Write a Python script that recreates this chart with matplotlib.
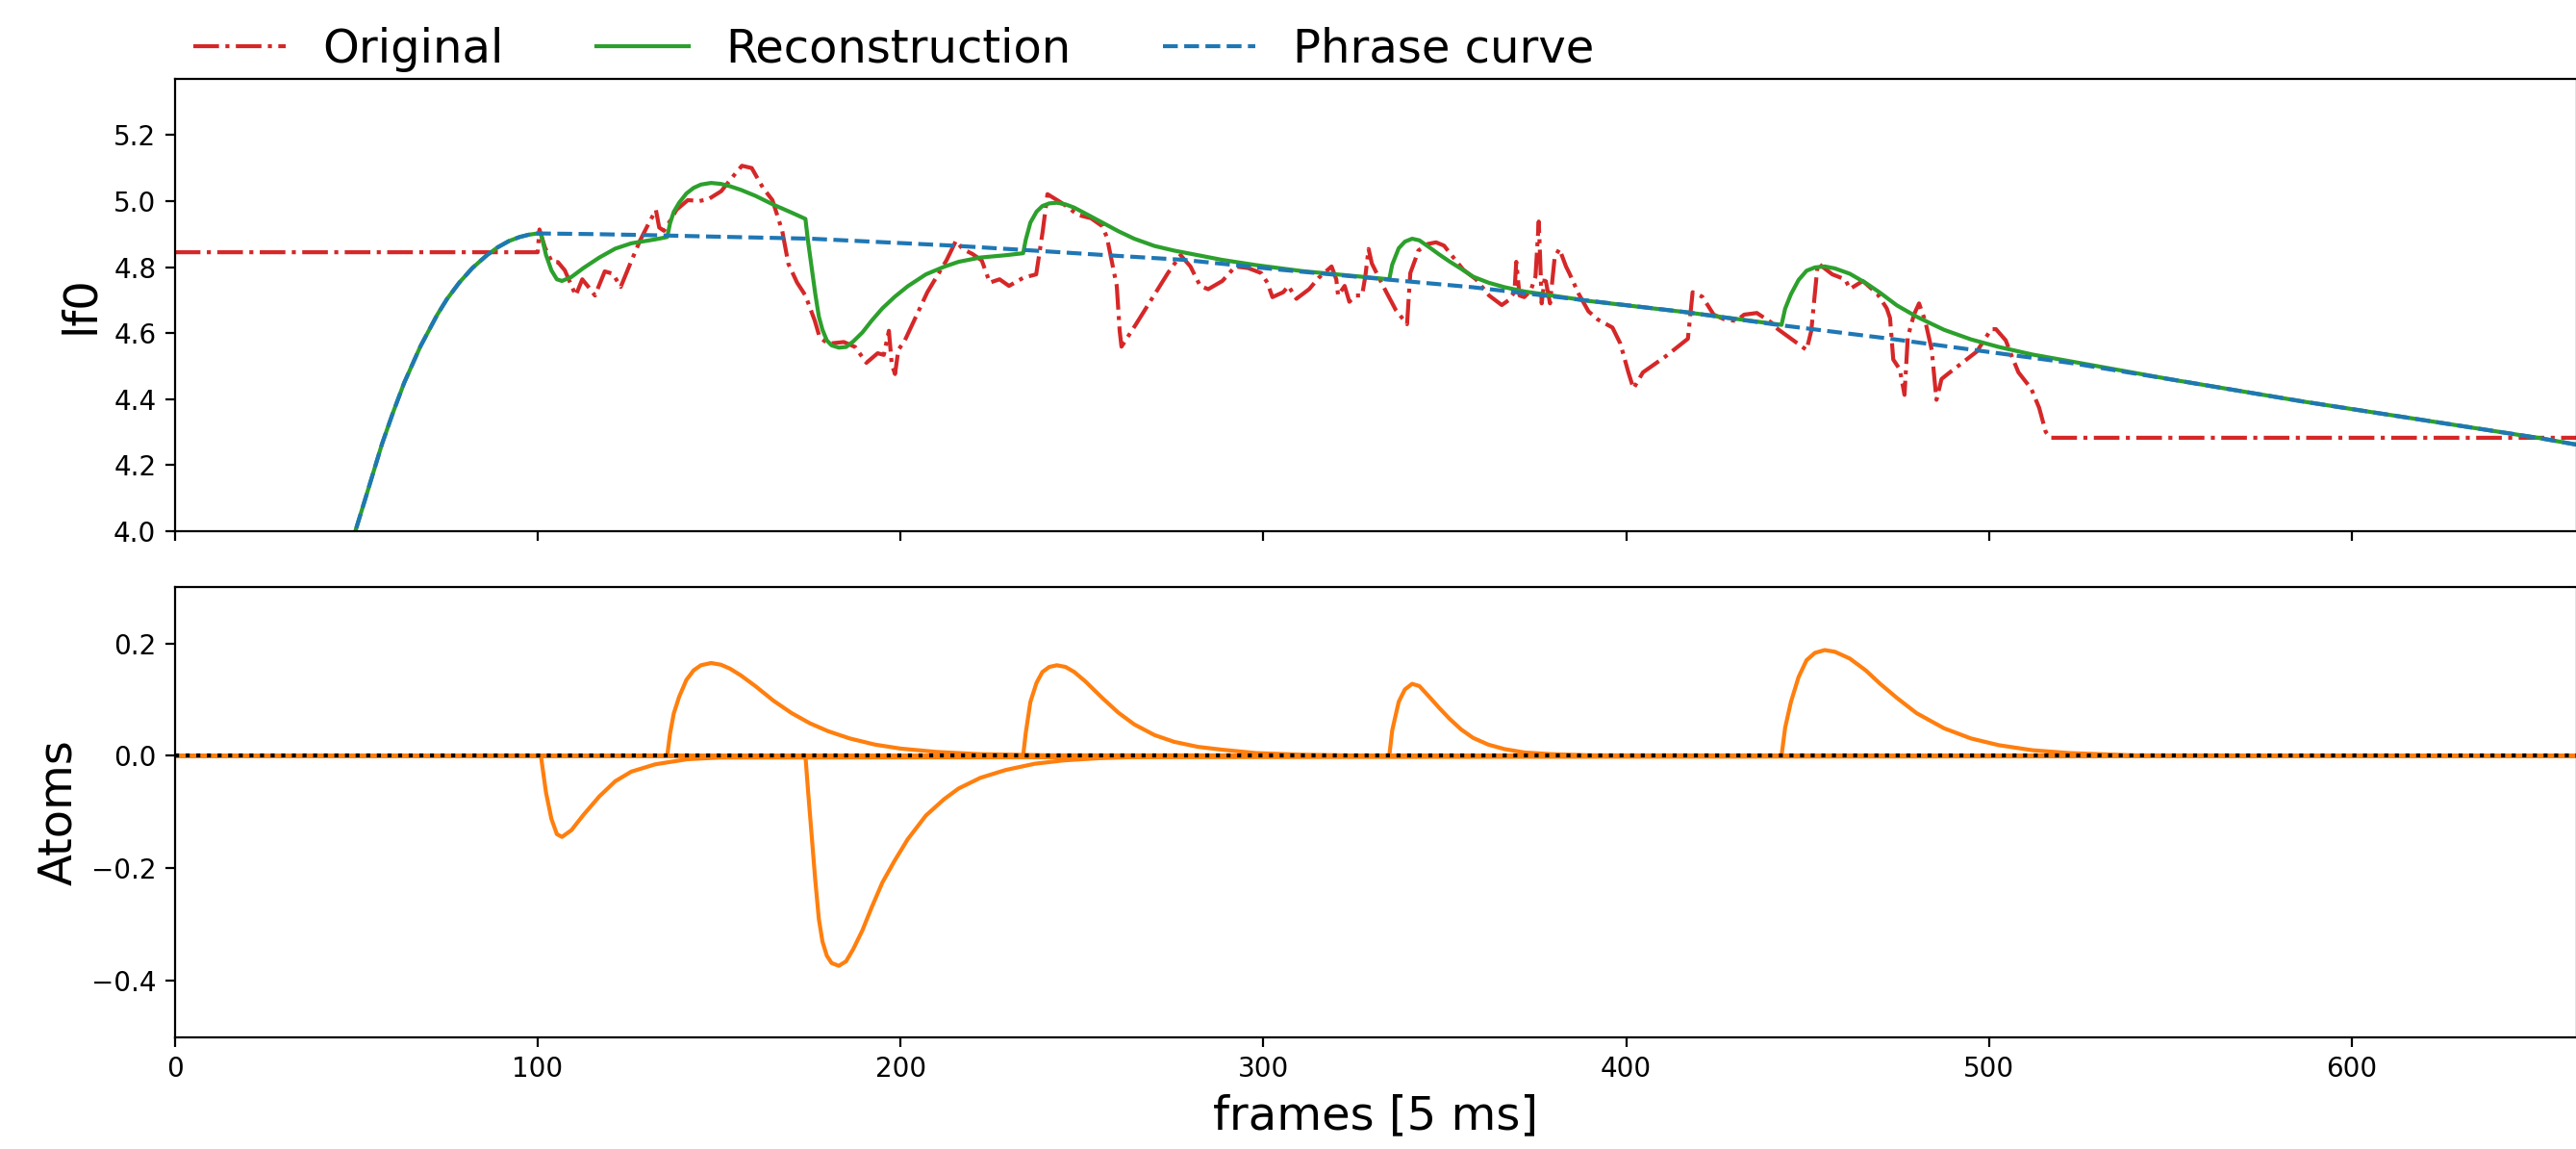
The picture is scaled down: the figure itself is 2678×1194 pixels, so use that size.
import matplotlib.pyplot as plt
import numpy as np

# values (frame index, value)
orig_x = [0, 100, 100.5, 102, 103.9, 105.6, 107.5, 110.5, 112.3, 114, 115.8, 118.5, 120.7, 122.9,
          125.5, 128.2, 130.5, 132.6, 133.5, 134.8, 136.5, 138.3, 141.4, 144.5, 147.1, 150.6, 153.5,
          156.3, 159.0, 162.1, 164.7, 167.4, 169.1, 171.5, 173.8, 176.4, 177.7, 180, 184.4, 187.5,
          190.6, 193.7, 195.4, 196.8, 197.6, 198.5, 199.4, 201.2, 207.4, 212.7, 215.3, 217.1, 219.8,
          222.4, 224.6, 227.3, 229.9, 233.9, 237.4, 239.2, 240.5, 243.6, 245.4, 248.9, 252.5, 255.6,
          256.9, 257.8, 259.6, 260.4, 260.9, 264.9, 273.7, 277.2, 279.9, 282.6, 284.8, 288.7, 292.3,
          295.8, 299.4, 301.1, 302.5, 305.5, 306.9, 309.1, 312.6, 315.3, 318.8, 320.1, 320.6, 322.4,
          323.7, 325.5, 327.2, 328.1, 329.0, 329.9, 331.2, 333.9, 336.5, 339.6, 340.5, 341.8, 342.7,
          345.3, 347.6, 349.8, 351.5, 355.1, 358.6, 362.2, 365.7, 367.5, 369.2, 369.7, 370.6, 371.9,
          373.7, 375.0, 375.9, 376.3, 376.7, 377.6, 379.0, 380.3, 381.6, 383.4, 384.3, 386.9, 389.6,
          392.2, 396.2, 398.4, 400.6, 402.0, 404.6, 410.8, 417.0, 418.3, 421.0, 424.1, 427.2, 430.3,
          432.5, 436.0, 440.0, 441.8, 449.7, 451.0, 452.8, 456.8, 460.3, 461.7, 465.2, 469.2, 471.8,
          472.7, 473.6, 475.4, 476.7, 477.6, 479.3, 480.7, 482.4, 484.2, 485.5, 486.9, 488.6, 496.6,
          499.2, 500.6, 501.9, 504.6, 506.3, 508.1, 511.6, 513.8, 515.6, 516.9, 662]
orig_y = [4.845, 4.845, 4.914, 4.86, 4.816, 4.815, 4.79, 4.714, 4.763, 4.74, 4.714, 4.787, 4.78, 4.74,
          4.81, 4.88, 4.93, 4.973, 4.92, 4.91, 4.94, 4.974, 5.003, 5.0, 5.006, 5.03, 5.07,
          5.107, 5.10, 5.04, 5.003, 4.91, 4.81, 4.753, 4.714, 4.637, 4.588, 4.568, 4.573, 4.558,
          4.51, 4.539, 4.534, 4.607, 4.505, 4.476, 4.549, 4.578, 4.724, 4.821, 4.88, 4.855, 4.84,
          4.82, 4.753, 4.763, 4.743, 4.768, 4.778, 4.909, 5.021, 5.0, 4.987, 4.958, 4.948, 4.924,
          4.89, 4.841, 4.743, 4.607, 4.559, 4.627, 4.782, 4.836, 4.802, 4.743, 4.733, 4.758, 4.802,
          4.797, 4.782, 4.753, 4.709, 4.724, 4.743, 4.704, 4.733, 4.768, 4.802, 4.763, 4.714, 4.743,
          4.695, 4.714, 4.714, 4.772, 4.855, 4.811, 4.782, 4.724, 4.67, 4.627, 4.782, 4.821, 4.85,
          4.87, 4.875, 4.865, 4.841, 4.792, 4.763, 4.714, 4.685, 4.699, 4.724, 4.816, 4.714, 4.709,
          4.729, 4.772, 4.938, 4.821, 4.69, 4.772, 4.69, 4.831, 4.855, 4.802, 4.782, 4.719, 4.666,
          4.641, 4.617, 4.568, 4.481, 4.432, 4.481, 4.529, 4.583, 4.724, 4.71, 4.656, 4.641, 4.637,
          4.656, 4.661, 4.632, 4.612, 4.549, 4.607, 4.812, 4.778, 4.763, 4.734, 4.758, 4.719, 4.675,
          4.646, 4.52, 4.49, 4.413, 4.588, 4.656, 4.69, 4.637, 4.549, 4.398, 4.461, 4.476, 4.544,
          4.588, 4.612, 4.612, 4.578, 4.529, 4.481, 4.432, 4.374, 4.301, 4.283, 4.283]

phrase_x = [47, 49.9, 52.5, 55, 57.1, 60, 63.2, 67.7, 72.3, 75, 78.4, 82, 86, 89, 92.1, 95, 97.5,
            100, 115, 130, 150, 175.5, 214.5, 233.9, 256.9, 278, 304.7, 336.5, 357.7, 384.3,
            416.1, 441.8, 472.7, 499.2, 522.2, 550, 586.4, 620, 651.7, 662]
phrase_y = [3.885, 4.005, 4.098, 4.188, 4.264, 4.355, 4.449, 4.56, 4.655, 4.703, 4.753, 4.797,
            4.836, 4.86, 4.879, 4.891, 4.898, 4.902, 4.9, 4.897, 4.892, 4.886, 4.865, 4.852,
            4.836, 4.822, 4.792, 4.76, 4.739, 4.705, 4.664, 4.625, 4.583, 4.544, 4.51, 4.46,
            4.393, 4.336, 4.282, 4.262]

recon_x = [47, 49.9, 52.5, 55, 57.1, 60, 63.2, 67.7, 72.3, 75, 78.4, 82, 86, 89, 92.1, 95, 97.5,
           100, 100.9, 102.3, 103.8, 105.3, 106.7, 109.3, 112.6, 117.0, 121.4, 125.8, 132.4,
           135.7, 136.5, 137.5, 139, 141, 143, 145, 147.8, 150.5, 153, 156, 160, 165, 170, 173.8,
           174.5, 175.5, 176.5, 177.5, 178.5, 179.7, 181, 183, 185, 187, 189.5, 192, 195, 198.4,
           202, 207, 212, 216, 222, 229, 233.8, 234.5, 235.8, 237.5, 239.1, 241, 243.1, 245.5,
           247.9, 251, 255.6, 260, 264.4, 270, 275.4, 282, 288.6, 298, 310.6, 325, 334.7, 335.5,
           337.3, 339, 341, 343, 346, 348.5, 351.3, 354.5, 357.8, 362, 366.5, 372, 379.5, 390,
           416, 442.8, 443.8, 445.4, 447.5, 449.7, 452, 454.7, 457.5, 461.6, 466, 470, 474.6,
           480, 487.6, 495, 502.7, 512, 522.2, 550, 586.4, 620, 651.7, 662]
recon_y = [3.885, 4.005, 4.098, 4.188, 4.264, 4.355, 4.449, 4.56, 4.655, 4.703, 4.753, 4.797,
           4.836, 4.86, 4.879, 4.891, 4.898, 4.902, 4.902, 4.837, 4.79, 4.763, 4.758, 4.77, 4.797,
           4.829, 4.856, 4.872, 4.884, 4.891, 4.933, 4.967, 4.995, 5.023, 5.04, 5.05, 5.055,
           5.052, 5.045, 5.034, 5.016, 4.989, 4.965, 4.946, 4.88, 4.8, 4.72, 4.65, 4.61, 4.578,
           4.563, 4.556, 4.558, 4.575, 4.602, 4.637, 4.675, 4.71, 4.742, 4.778, 4.801, 4.816,
           4.829, 4.836, 4.842, 4.882, 4.935, 4.968, 4.985, 4.993, 4.995, 4.99, 4.98, 4.962,
           4.935, 4.909, 4.886, 4.864, 4.85, 4.836, 4.822, 4.806, 4.788, 4.773, 4.763, 4.807,
           4.857, 4.877, 4.886, 4.881, 4.858, 4.838, 4.817, 4.795, 4.771, 4.753, 4.739, 4.726,
           4.714, 4.697, 4.664, 4.625, 4.674, 4.718, 4.761, 4.789, 4.799, 4.802, 4.796, 4.78,
           4.752, 4.722, 4.684, 4.65, 4.61, 4.581, 4.558, 4.535, 4.515, 4.46, 4.393, 4.336,
           4.282, 4.262]

# atoms: (frames, values), each zero outside
atom1_x = [100.9, 102.3, 103.8, 105.3, 106.7, 109.3, 112.6, 117.0, 121.4, 125.8, 132.4, 141.2, 150.0]
atom1_y = [0.0, -0.065, -0.112, -0.139, -0.144, -0.132, -0.105, -0.072, -0.045, -0.028, -0.015,
           -0.006, -0.003]
atom2_x = [135.7, 136.5, 137.5, 139, 141, 143, 145, 147.8, 150.5, 153, 156, 160, 165, 170, 175,
           180, 186, 193, 200, 210, 222, 240]
atom2_y = [0.0, 0.04, 0.075, 0.105, 0.135, 0.152, 0.161, 0.165, 0.162, 0.155, 0.143, 0.124, 0.098,
           0.076, 0.058, 0.044, 0.031, 0.02, 0.013, 0.007, 0.003, 0.001]
atom3_x = [173.8, 174.5, 175.5, 176.5, 177.5, 178.5, 179.7, 181, 183, 185, 187, 189.5, 192, 195,
           198.4, 202, 207, 212, 216, 222, 229, 237, 245, 255, 267, 280]
atom3_y = [0.0, -0.06, -0.14, -0.22, -0.29, -0.33, -0.355, -0.368, -0.373, -0.365, -0.343, -0.31,
           -0.27, -0.225, -0.186, -0.148, -0.106, -0.077, -0.058, -0.039, -0.025, -0.014, -0.008,
           -0.004, -0.0015, -0.0005]
atom4_x = [233.8, 234.5, 235.8, 237.5, 239.1, 241, 243.1, 245.5, 247.9, 251, 255.6, 260, 264.4,
           270, 275.4, 282, 288.6, 298, 310.6, 325]
atom4_y = [0.0, 0.04, 0.096, 0.13, 0.149, 0.158, 0.161, 0.158, 0.149, 0.132, 0.103, 0.077, 0.056,
           0.037, 0.025, 0.016, 0.011, 0.005, 0.002, 0.0005]
atom5_x = [334.7, 335.5, 337.3, 339, 341, 343, 346, 348.5, 351.3, 354.5, 357.8, 362, 366.5, 372,
           379.5, 390]
atom5_y = [0.0, 0.045, 0.096, 0.118, 0.128, 0.124, 0.103, 0.085, 0.066, 0.047, 0.032, 0.02, 0.012,
           0.006, 0.003, 0.001]
atom6_x = [442.8, 443.8, 445.4, 447.5, 449.7, 452, 454.7, 457.5, 461.6, 466, 470, 474.6, 480,
           487.6, 495, 502.7, 512, 522.2, 539.5]
atom6_y = [0.0, 0.05, 0.096, 0.14, 0.17, 0.183, 0.188, 0.185, 0.173, 0.152, 0.128, 0.103, 0.076,
           0.049, 0.031, 0.019, 0.01, 0.005, 0.001]

n_frames = 662

fig = plt.figure(figsize=(13.39, 5.97), dpi=200)
ax1 = fig.add_axes([0.06785, 0.5377, 0.9325, 0.3936])
ax2 = fig.add_axes([0.06785, 0.0972, 0.9325, 0.3919], sharex=ax1)

ax1.plot(orig_x, orig_y, '-.', color='tab:red', label='Original')
ax1.plot(recon_x, recon_y, '-', color='tab:green', label='Reconstruction')
ax1.plot(phrase_x, phrase_y, '--', color='tab:blue', label='Phrase curve')
ax1.set_ylim(4.0, 5.37)
ax1.set_ylabel('lf0', fontsize='xx-large')
ax1.tick_params(labelbottom=False)
ax1.legend(bbox_to_anchor=(0., 0.975, 1., .102), loc='lower left', ncol=3,
           borderaxespad=0., frameon=False, fontsize='xx-large')

atoms = [(atom1_x, atom1_y), (atom2_x, atom2_y), (atom3_x, atom3_y),
         (atom4_x, atom4_y), (atom5_x, atom5_y), (atom6_x, atom6_y)]
for ax_, ay_ in atoms:
    xs = [0] + ax_ + [n_frames]
    ys = [0.0] + ay_ + [0.0]
    ax2.plot(xs, ys, color='tab:orange')
ax2.axhline(0, color='k', ls=':')
ax2.set_ylim(-0.5, 0.3)
ax2.set_yticks([-0.4, -0.2, 0.0, 0.2])
ax2.set_xlim(0, n_frames)
ax2.set_ylabel('Atoms', fontsize='xx-large')
ax2.set_xlabel('frames [5 ms]', fontsize='xx-large')

fig.savefig('out.png', dpi=200)
